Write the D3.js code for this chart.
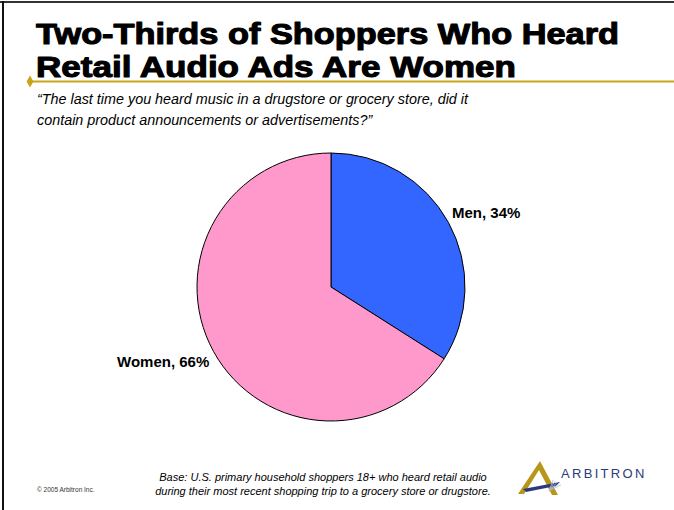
<!DOCTYPE html>
<html>
<head>
<meta charset="utf-8">
<script src="https://cdn.jsdelivr.net/npm/d3@7"></script>
<style>
  html, body { margin: 0; padding: 0; background: #fff; }
  svg { display: block; }
</style>
</head>
<body>
<svg id="chart" width="674" height="510"></svg>
<script>
// Survey result: gender split of shoppers who heard retail audio ads
const categories = ["Men", "Women"];
const shares = [34, 66];
const sliceColors = ["#3366FF", "#FF99CC"];

const titleLines = ["Two-Thirds of Shoppers Who Heard", "Retail Audio Ads Are Women"];
const questionLines = [
  "\u201CThe last time you heard music in a drugstore or grocery store, did it",
  "contain product announcements or advertisements?\u201D"
];
const baseLines = [
  "Base: U.S. primary household shoppers 18+ who heard retail audio",
  "during their most recent shopping trip to a grocery store or drugstore."
];
const copyright = "\u00A9 2005 Arbitron Inc.";

const svg = d3.select("#chart");
const W = 674, H = 510;
const FONT = "Liberation Sans, Arial, sans-serif";

// slide frame (top and left edges)
svg.append("line").attr("x1", 0).attr("x2", W).attr("y1", 2).attr("y2", 2)
  .attr("stroke", "#333").attr("stroke-width", 2);
svg.append("line").attr("x1", 3).attr("x2", 3).attr("y1", 1).attr("y2", H)
  .attr("stroke", "#111").attr("stroke-width", 2);

// title (heavy sans, slightly condensed)
const title = svg.append("g").attr("font-family", FONT)
  .attr("font-weight", "bold").attr("font-size", 30).attr("fill", "#000")
  .attr("stroke", "#000").attr("stroke-width", 1.1).attr("stroke-linejoin", "round");
title.selectAll("text").data(titleLines).join("text")
  .attr("x", 36).attr("y", (d, i) => 44 + i * 33)
  .attr("textLength", (d, i) => i === 0 ? 583 : 480)
  .attr("lengthAdjust", "spacingAndGlyphs")
  .text(d => d);

// gold rule with diamond marker
svg.append("line").attr("x1", 30).attr("x2", W).attr("y1", 81.5).attr("y2", 81.5)
  .attr("stroke", "#C9A418").attr("stroke-width", 2);
svg.append("path").attr("d", d3.symbol(d3.symbolDiamond, 40)())
  .attr("transform", "translate(30,81.5)").attr("fill", "#C9A418");

// question text, narrowed uniformly so the first line spans 431px
const qText = svg.append("g").attr("font-family", FONT)
  .attr("font-style", "italic").attr("font-size", 15).attr("fill", "#000")
  .selectAll("text").data(questionLines).join("text")
  .attr("x", 37).attr("y", (d, i) => 104 + i * 21)
  .text(d => d);
const qNodes = qText.nodes();
const qScale = 431 / qNodes[0].getComputedTextLength();
qText.each(function () {
  d3.select(this)
    .attr("textLength", this.getComputedTextLength() * qScale)
    .attr("lengthAdjust", "spacingAndGlyphs");
});

// pie
const cx = 331, cy = 287, r = 134;
const data = categories.map((c, i) => ({ category: c, value: shares[i], color: sliceColors[i] }));
const pie = d3.pie().value(d => d.value).sort(null);
const arc = d3.arc().innerRadius(0).outerRadius(r);
const arcs = pie(data);

const g = svg.append("g").attr("transform", `translate(${cx},${cy})`);
g.selectAll("path").data(arcs).join("path")
  .attr("d", arc)
  .attr("fill", d => d.data.color)
  .attr("stroke", "#000").attr("stroke-width", 1);

// slice labels placed outside the pie
g.selectAll("text.label").data(arcs).join("text")
  .attr("class", "label")
  .attr("font-family", FONT)
  .attr("font-weight", "bold").attr("font-size", 15).attr("fill", "#000")
  .attr("x", (d, i) => i === 0 ? 121 : -214)
  .attr("y", (d, i) => i === 0 ? -69 : 80)
  .text(d => `${d.data.category}, ${d.data.value}%`);

// footer note
svg.append("g").attr("font-family", FONT)
  .attr("font-style", "italic").attr("font-size", 11).attr("fill", "#000")
  .attr("text-anchor", "middle")
  .selectAll("text").data(baseLines).join("text")
  .attr("x", 323).attr("y", (d, i) => 481 + i * 14)
  .text(d => d);

svg.append("text").attr("x", 37).attr("y", 492)
  .attr("font-family", FONT)
  .attr("font-size", 6.5).attr("fill", "#333")
  .text(copyright);

// company mark
const logo = svg.append("g");
logo.append("path")
  .attr("d", "M518,494 L540,461 L558,495 L552,495 L539,470 L524,494 Z")
  .attr("fill", "#B8961A");
logo.append("path")
  .attr("d", "M523,489 L560,482 L556,486 L526,492 Z")
  .attr("fill", "#2C3A7A");
logo.append("g").attr("stroke", "#AEB8D8").attr("stroke-width", 0.8)
  .selectAll("line").data([0, 1, 2, 3, 4]).join("line")
  .attr("x1", 549).attr("y1", 491)
  .attr("x2", d => 553 + d * 2).attr("y2", d => 480 + d * 1.2);
logo.append("text").attr("x", 561).attr("y", 478)
  .attr("font-family", FONT)
  .attr("font-size", 13).attr("letter-spacing", 2.3).attr("fill", "#2C3A7A")
  .text("ARBITRON");
</script>
</body>
</html>
